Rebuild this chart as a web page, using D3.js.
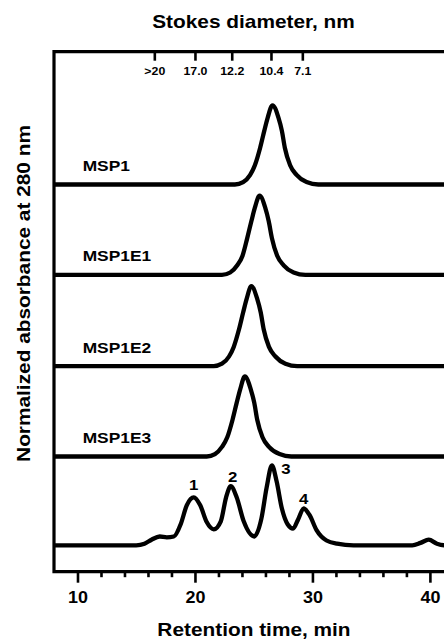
<!DOCTYPE html>
<html>
<head>
<meta charset="utf-8">
<script src="https://cdn.jsdelivr.net/npm/d3@7"></script>
<style>
  body { margin: 0; background: #fff; }
  svg { display: block; }
  text { font-family: "Liberation Sans", Arial, sans-serif; font-weight: bold; fill: #000; }
</style>
</head>
<body>
<svg id="chart" width="444" height="641"></svg>
<script>
// sample names, top to bottom
const samples = ["MSP1", "MSP1E1", "MSP1E2", "MSP1E3", ""];
// vertical offset of each trace (normalized units)
const offsets = [4.51, 3.38, 2.24, 1.11, 0];

// traces: [retention time (min), normalized absorbance]
const msp1 = [[8,0],[20,0],[23.4,0],[24.1,0.03],[24.7,0.12],[25.1,0.24],[25.55,0.46],[25.9,0.67],[26.2,0.84],[26.6,0.99],[27.1,0.84],[27.4,0.67],[27.65,0.46],[28.1,0.24],[28.65,0.12],[29.5,0.03],[30.5,0],[36,0],[42,0]];
const msp1e1 = [[8,0],[20,0],[22.3,0],[23.0,0.03],[23.6,0.12],[24.05,0.24],[24.45,0.46],[24.8,0.67],[25.1,0.84],[25.5,0.99],[25.98,0.84],[26.28,0.67],[26.55,0.46],[27.0,0.24],[27.55,0.12],[28.4,0.03],[29.4,0],[36,0],[42,0]];
const msp1e2 = [[8,0],[18,0],[21.6,0],[22.3,0.03],[22.9,0.12],[23.3,0.24],[23.75,0.46],[24.1,0.67],[24.4,0.84],[24.8,1.0],[25.3,0.84],[25.6,0.67],[25.85,0.46],[26.3,0.24],[26.85,0.12],[27.7,0.03],[28.7,0],[36,0],[42,0]];
const msp1e3 = [[8,0],[18,0],[21.0,0],[21.7,0.03],[22.3,0.12],[22.75,0.24],[23.2,0.46],[23.55,0.67],[23.85,0.84],[24.25,1.0],[24.75,0.84],[25.05,0.67],[25.3,0.46],[25.75,0.24],[26.3,0.12],[27.2,0.03],[28.2,0],[36,0],[42,0]];
const mixture = [[8,0],[15.0,0],[15.7,0.02],[16.3,0.07],[17.0,0.11],[17.6,0.1],[18.2,0.11],[18.8,0.27],[19.3,0.5],[19.9,0.6],[20.45,0.5],[21.0,0.29],[21.6,0.2],[22.2,0.3],[22.65,0.6],[23.05,0.74],[23.55,0.6],[24.15,0.3],[25.05,0.11],[25.65,0.33],[26.1,0.72],[26.55,1.0],[26.95,0.8],[27.4,0.46],[27.9,0.26],[28.35,0.21],[28.8,0.33],[29.25,0.46],[29.75,0.38],[30.35,0.19],[31.2,0.06],[32.1,0.02],[33.5,0],[38.5,0],[39.2,0.03],[39.9,0.07],[40.6,0.02],[41.3,0],[42.5,0]];
const traces = [msp1, msp1e1, msp1e2, msp1e3, mixture];

// numbered peaks of the mixture
const peakLabels = ["1", "2", "3", "4"];
const peakTimes = [19.9, 23.05, 26.55, 29.25];
const peakValues = [0.6, 0.74, 1.0, 0.46];

// top axis: Stokes diameter markers
const stokesTimes = [16.54, 20.0, 23.13, 26.47, 29.14];
const stokesLabels = [">20", "17.0", "12.2", "10.4", "7.1"];

const majorTicks = [10, 20, 30, 40];
const minorTicks = [12, 14, 16, 18, 22, 24, 26, 28, 32, 34, 36, 38];

// the source figure is a bit stretched horizontally
const STRETCH = 1.12;
function stretch(sel) {
  sel.each(function() {
    this.setAttribute('textLength', this.getComputedTextLength() * STRETCH);
    this.setAttribute('lengthAdjust', 'spacingAndGlyphs');
  });
}

const svg = d3.select('#chart');
const plotLeft = 54, plotRight = 444, plotTop = 51.7, plotBottom = 571.7;

const x = d3.scaleLinear().domain([8, 41.2]).range([plotLeft, plotRight]);
const y = d3.scaleLinear().domain([-0.33, 6.17]).range([plotBottom, plotTop]);

// traces
const line = d3.line()
  .x(d => x(d[0]))
  .curve(d3.curveMonotoneX);

traces.forEach((tr, i) => {
  svg.append('path')
    .datum(tr)
    .attr('fill', 'none')
    .attr('stroke', '#000')
    .attr('stroke-width', 4.3)
    .attr('stroke-linejoin', 'round')
    .attr('d', line.y(d => y(d[1] + offsets[i])));
});

// sample labels
svg.append('g').selectAll('text')
  .data(samples.filter(s => s))
  .join('text')
    .attr('x', x(10.44))
    .attr('y', (d, i) => y(offsets[i]) - 13.5)
    .style('font-size', '15.5px')
    .text(d => d)
    .call(stretch);

// peak numbers
const nudge = [[0, -7.5], [2, -4.5], [14, 9], [0, -5]];
svg.append('g').selectAll('text')
  .data(peakLabels)
  .join('text')
    .attr('x', (d, i) => x(peakTimes[i]) + nudge[i][0])
    .attr('y', (d, i) => y(peakValues[i]) + nudge[i][1])
    .attr('text-anchor', 'middle')
    .style('font-size', '15px')
    .text(d => d)
    .call(stretch);

// bottom axis
const gMinor = svg.append('g')
  .attr('transform', 'translate(0,' + plotBottom + ')')
  .call(d3.axisBottom(x).tickValues(minorTicks).tickSize(5.5).tickFormat(''));
gMinor.select('.domain').remove();

const gMajor = svg.append('g')
  .attr('transform', 'translate(0,' + plotBottom + ')')
  .call(d3.axisBottom(x).tickValues(majorTicks).tickSize(11).tickSizeOuter(0).tickPadding(9));
gMajor.select('.domain').remove();
gMajor.selectAll('text')
  .style('font-size', '16px')
  .call(stretch);

svg.selectAll('.tick line')
  .attr('stroke', '#000')
  .attr('stroke-width', 2.6);

// top axis (Stokes diameter)
const gTop = svg.append('g')
  .attr('transform', 'translate(0,' + plotTop + ')')
  .call(d3.axisBottom(x).tickValues(stokesTimes).tickSize(9).tickPadding(6.5)
    .tickFormat((d, i) => stokesLabels[i]));
gTop.select('.domain').remove();
gTop.selectAll('line').attr('stroke', '#000').attr('stroke-width', 2.6);
gTop.selectAll('text')
  .style('font-size', '11px')
  .call(stretch);

// frame: top, left and bottom lines
svg.append('path')
  .attr('fill', 'none')
  .attr('stroke', '#000')
  .attr('stroke-width', 3.2)
  .attr('stroke-linejoin', 'miter')
  .attr('d', 'M' + plotRight + ',' + plotTop + 'H' + plotLeft + 'V' + plotBottom + 'H' + plotRight);

// titles
svg.append('text')
  .attr('x', 253.5)
  .attr('y', 28.3)
  .attr('text-anchor', 'middle')
  .style('font-size', '18.6px')
  .text('Stokes diameter, nm')
  .call(stretch);

svg.append('text')
  .attr('x', 254)
  .attr('y', 636)
  .attr('text-anchor', 'middle')
  .style('font-size', '18.6px')
  .text('Retention time, min')
  .call(stretch);

svg.append('text')
  .attr('transform', 'translate(30,293.5) rotate(-90)')
  .attr('text-anchor', 'middle')
  .style('font-size', '18.6px')
  .text('Normalized absorbance at 280 nm')
  .call(stretch);
</script>
</body>
</html>
